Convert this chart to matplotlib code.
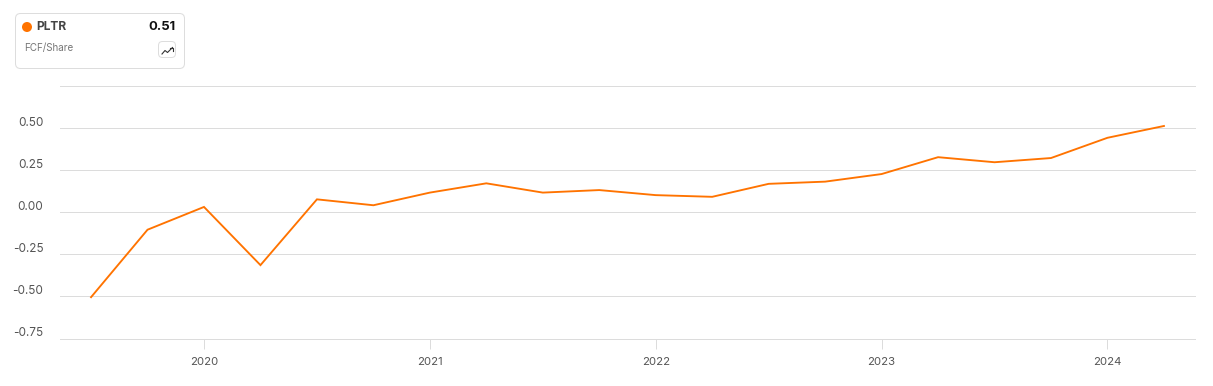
import matplotlib
matplotlib.use('Agg')
import matplotlib.pyplot as plt
from matplotlib.patches import FancyBboxPatch, Circle

plt.rcParams['font.family'] = ['Inter', 'DejaVu Sans']

# quarter ends as decimal years
quarters = [2019.5, 2019.75, 2020.0, 2020.25, 2020.5, 2020.75, 2021.0, 2021.25, 2021.5, 2021.75,
            2022.0, 2022.25, 2022.5, 2022.75, 2023.0, 2023.25, 2023.5, 2023.75, 2024.0, 2024.25]
fcf_share = [-0.505, -0.105, 0.03, -0.315, 0.075, 0.04, 0.115, 0.17, 0.115, 0.13,
             0.10, 0.09, 0.167, 0.18, 0.225, 0.325, 0.295, 0.32, 0.44, 0.51]
year_ticks = [2020, 2021, 2022, 2023, 2024]
y_ticks = [-0.75, -0.50, -0.25, 0.0, 0.25, 0.50, 0.75]
y_labels = ['-0.75', '-0.50', '-0.25', '0.00', '0.25', '0.50']

W, H = 1213, 386
ORANGE = '#ff7300'
GRID = '#dcdcdc'

fig = plt.figure(figsize=(W / 100, H / 100), dpi=100)
ax = fig.add_axes([60 / W, 1 - 338.5 / H, (1195 - 60) / W, (338.5 - 85.5) / H])
ax.set_xlim(2019.3625, 2024.3875)
ax.set_ylim(-0.75, 0.75)

for y in y_ticks:
    ax.axhline(y, color=GRID, lw=0.72, zorder=1, clip_on=False)
ax.plot(quarters, fcf_share, color=ORANGE, lw=1.35, zorder=3, solid_joinstyle='miter')

for s in ax.spines.values():
    s.set_visible(False)
ax.set_yticks([])
ax.set_xticks(year_ticks)
ax.set_xticklabels([str(y) for y in year_ticks])
ax.tick_params(axis='x', length=7, width=0.72, color=GRID, labelcolor='#555555', labelsize=8.2, pad=6)

# y labels sit just above their gridlines
for y, lab in zip(y_ticks, y_labels):
    ax.annotate(lab, (0, y), xycoords=('axes fraction', 'data'), xytext=(-12, 3.6),
                textcoords='offset points', ha='right', va='center', fontsize=8.5, color='#555555')

# legend card, in pixel coords
ov = fig.add_axes([0, 0, 1, 1])
ov.set_xlim(0, W)
ov.set_ylim(H, 0)
ov.axis('off')
ov.patch.set_alpha(0)
ov.add_patch(FancyBboxPatch((15.5, 13.5), 169, 55, boxstyle='round,pad=0,rounding_size=5',
                            fc='white', ec='#dddddd', lw=0.72))
ov.add_patch(Circle((27, 27), 5, fc=ORANGE, ec='none'))
ov.text(36, 27, 'PLTR', fontsize=8.6, fontweight='bold', color='#444444', va='center')
ov.text(175.5, 27, '0.51', fontsize=9.4, fontweight='bold', color='#111111', va='center', ha='right')
ov.text(24, 48.5, 'FCF/Share', fontsize=7.1, color='#777777', va='center')
ov.add_patch(FancyBboxPatch((158.5, 41.5), 17, 16, boxstyle='round,pad=0,rounding_size=4',
                            fc='white', ec='#dddddd', lw=0.72))
ov.plot([162, 165, 167.5, 172.5], [54, 50.5, 52.5, 47.5], color='#333333', lw=0.8)
ov.plot([169.5, 172.8, 172.8], [47.5, 47.5, 50.5], color='#333333', lw=0.8)

fig.savefig('out.png', dpi=100)
